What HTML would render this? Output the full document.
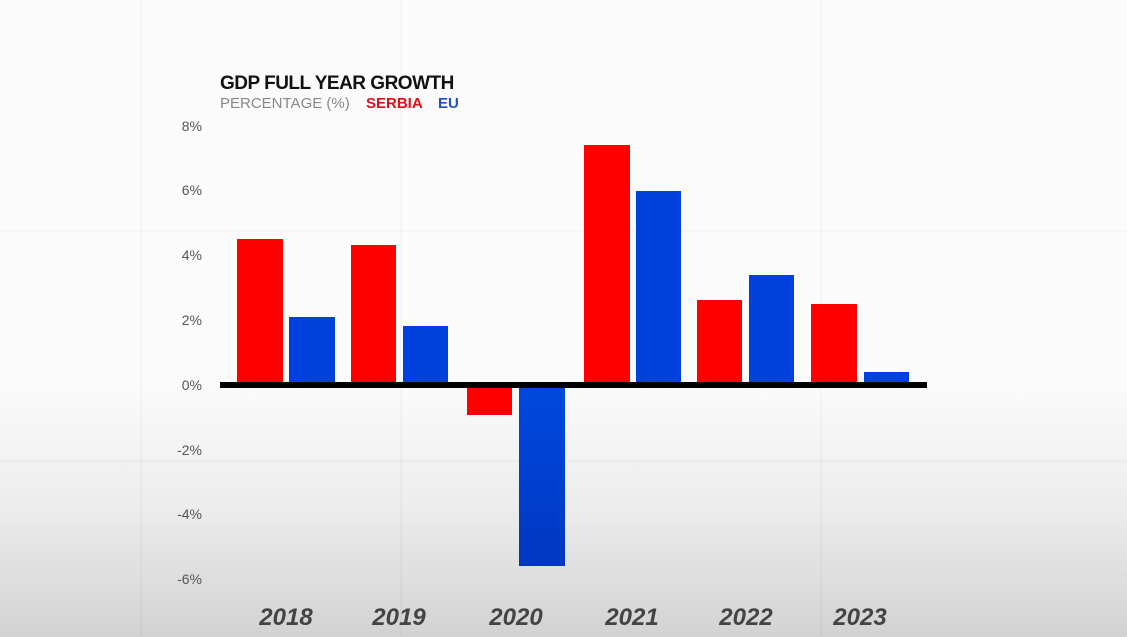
<!DOCTYPE html>
<html><head><style>
html,body{margin:0;padding:0}
body{width:1127px;height:637px;overflow:hidden;position:relative;font-family:"Liberation Sans",sans-serif;
background:linear-gradient(to bottom,#fbfbfb 0%,#fbfbfb 60%,#ececec 80%,#d2d2d2 100%);}
.b{position:absolute}
.r{background:#fe0000}
.u{background:#0040dd}
.yl{position:absolute;left:150px;width:52px;text-align:right;font-size:14px;color:#555}
.yr{position:absolute;top:604px;width:100px;text-align:center;font-size:24px;font-weight:bold;font-style:italic;color:#444}
.g{position:absolute;background:rgba(0,0,0,0.025)}
</style></head><body>
<div class="g" style="left:140px;top:0;width:2px;height:637px"></div>
<div class="g" style="left:400px;top:0;width:2px;height:637px"></div>
<div class="g" style="left:820px;top:0;width:2px;height:637px"></div>
<div class="g" style="left:0;top:230px;width:1127px;height:2px"></div>
<div class="g" style="left:0;top:460px;width:1127px;height:2px"></div>

<div class="b" style="left:220px;top:73px;font-size:19px;font-weight:bold;color:#111;letter-spacing:-0.5px">GDP FULL YEAR GROWTH</div>
<div class="b" style="left:220px;top:95px;font-size:15px;color:#888">PERCENTAGE (%)</div>
<div class="b" style="left:366px;top:95px;font-size:15px;font-weight:bold;color:#e0101a">SERBIA</div>
<div class="b" style="left:438px;top:95px;font-size:15px;font-weight:bold;color:#2050c0">EU</div>

<div class="yl" style="top:118px">8%</div>
<div class="yl" style="top:182px">6%</div>
<div class="yl" style="top:247px">4%</div>
<div class="yl" style="top:312px">2%</div>
<div class="yl" style="top:377px">0%</div>
<div class="yl" style="top:442px">-2%</div>
<div class="yl" style="top:506px">-4%</div>
<div class="yl" style="top:571px">-6%</div>

<div class="b r" style="left:237px;top:239px;width:46px;height:145px"></div>
<div class="b u" style="left:289px;top:317px;width:46px;height:67px"></div>
<div class="b r" style="left:351px;top:245px;width:45px;height:139px"></div>
<div class="b u" style="left:403px;top:326px;width:45px;height:58px"></div>
<div class="b r" style="left:467px;top:386px;width:45px;height:29px"></div>
<div class="b u" style="left:519px;top:386px;width:46px;height:180px;background:linear-gradient(#0048e0,#0038c0)"></div>
<div class="b r" style="left:584px;top:145px;width:46px;height:239px"></div>
<div class="b u" style="left:636px;top:191px;width:45px;height:193px"></div>
<div class="b r" style="left:697px;top:300px;width:45px;height:84px"></div>
<div class="b u" style="left:749px;top:275px;width:45px;height:109px"></div>
<div class="b r" style="left:811px;top:304px;width:46px;height:80px"></div>
<div class="b u" style="left:864px;top:372px;width:45px;height:12px"></div>
<div class="b" style="left:220px;top:382px;width:707px;height:6px;background:#000"></div>

<div class="yr" style="left:236px">2018</div>
<div class="yr" style="left:349px">2019</div>
<div class="yr" style="left:466px">2020</div>
<div class="yr" style="left:582px">2021</div>
<div class="yr" style="left:696px">2022</div>
<div class="yr" style="left:810px">2023</div>
</body></html>
